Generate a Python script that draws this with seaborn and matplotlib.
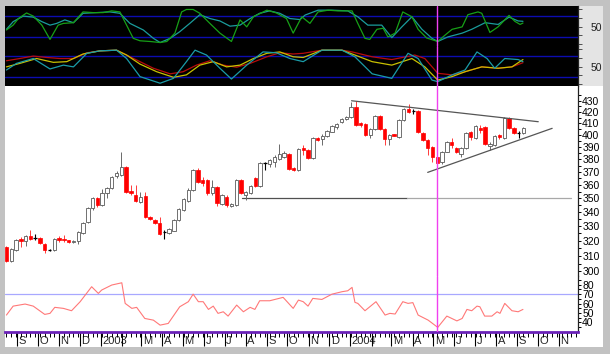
import numpy as np
import pandas as pd
import seaborn as sns
import matplotlib.pyplot as plt
from matplotlib.patches import Rectangle
from matplotlib.ticker import FixedLocator, NullFormatter, FuncFormatter
from matplotlib.transforms import ScaledTranslation
import matplotlib.dates as mdates

# weekly candles, first bar = week ending 16 Aug 2002
start = pd.Timestamp("2002-08-16")

opens = [315.8, 306.7, 313.8, 321.5, 319.8, 323.3, 321.6, 321.9, 317.8, 313.8,
         313.8, 321.9, 321.5, 320.5, 319.1, 319.8, 325.3, 332.9, 342.9, 350.2,
         345.1, 353.9, 357.7, 366.9, 367.7, 373.9, 355.4, 352.4, 347.3, 351.7,
         336.5, 334.3, 332.2, 325.8, 325.3, 327.0, 334.3, 341.5, 348.0, 356.2,
         371.5, 363.8, 363.8, 354.0, 358.5, 345.9, 351.0, 344.4, 345.1, 363.8,
         352.4, 354.0, 365.3, 359.2, 377.1, 376.3, 377.9, 380.3, 381.9, 384.3,
         373.1, 371.5, 389.2, 387.5, 380.7, 397.5, 396.7, 399.2, 402.9, 406.5,
         411.2, 413.8, 415.5, 424.3, 410.4, 409.5, 400.0, 405.3, 416.4, 405.3,
         396.7, 400.6, 398.3, 412.9, 422.5, 420.8, 420.8, 401.7, 395.8, 390.0,
         381.9, 377.5, 386.3, 393.8, 389.2, 384.3, 389.2, 402.5, 397.5, 406.1,
         407.0, 390.5, 391.7, 400.0, 397.5, 414.7, 406.1, 401.7, 401.7]
highs = [316.5, 315.1, 321.2, 322.6, 324.0, 327.4, 324.6, 322.6, 318.5, 314.5,
         321.9, 323.3, 324.0, 320.8, 320.5, 326.7, 332.9, 343.6, 351.0, 351.0,
         356.9, 358.5, 366.9, 370.8, 385.7, 374.7, 360.0, 360.0, 354.7, 354.7,
         337.2, 335.0, 336.5, 327.4, 328.8, 335.0, 342.9, 350.2, 357.7, 372.3,
         373.1, 366.1, 364.6, 363.8, 359.2, 353.2, 352.4, 346.6, 364.6, 364.6,
         355.4, 360.0, 366.1, 377.9, 377.9, 380.3, 383.5, 392.5, 386.7, 385.1,
         373.9, 389.2, 391.7, 388.4, 398.3, 398.3, 400.8, 404.2, 408.6, 410.4,
         414.7, 416.4, 428.8, 429.7, 411.2, 410.4, 406.1, 417.3, 417.3, 406.1,
         400.8, 400.8, 413.8, 423.4, 427.0, 422.5, 421.7, 402.5, 396.7, 390.9,
         382.7, 386.7, 395.0, 397.5, 390.0, 390.0, 402.5, 403.4, 408.6, 408.6,
         407.8, 394.2, 400.0, 400.8, 415.5, 415.5, 407.0, 403.4, 407.0]
lows = [306.0, 306.0, 313.5, 315.8, 316.5, 320.5, 320.5, 317.8, 311.8, 313.1,
        313.1, 319.1, 319.1, 318.5, 318.5, 317.8, 324.6, 332.2, 341.5, 343.6,
        344.4, 350.2, 357.0, 365.7, 366.9, 353.9, 352.4, 347.3, 346.6, 335.8,
        334.3, 331.5, 323.9, 321.2, 324.6, 326.7, 333.6, 340.8, 347.3, 355.4,
        361.5, 359.2, 352.4, 352.4, 344.4, 345.1, 343.6, 343.6, 344.4, 353.2,
        348.7, 353.2, 358.5, 358.5, 371.5, 373.9, 373.9, 379.5, 381.1, 371.5,
        370.8, 370.8, 383.5, 380.3, 380.3, 395.0, 391.7, 398.3, 402.5, 405.3,
        410.4, 412.9, 414.7, 407.8, 407.0, 399.2, 397.5, 404.2, 404.2, 391.7,
        391.7, 399.2, 397.5, 412.1, 419.0, 418.1, 401.7, 395.0, 383.5, 377.9,
        375.5, 376.3, 385.9, 389.2, 385.1, 381.9, 388.4, 395.8, 396.7, 401.7,
        391.7, 387.5, 390.9, 396.7, 396.7, 405.3, 400.8, 397.5, 400.8]
closes = [306.7, 314.5, 320.5, 319.8, 323.3, 321.5, 321.9, 318.5, 313.8, 314.0,
          321.2, 320.5, 320.8, 318.9, 320.2, 326.0, 332.2, 342.9, 350.2, 345.1,
          353.9, 357.7, 366.1, 369.2, 373.9, 354.7, 353.9, 348.0, 351.0, 336.5,
          335.0, 332.2, 324.6, 326.2, 328.1, 334.3, 341.9, 349.4, 356.2, 371.5,
          362.3, 361.5, 354.0, 358.5, 346.6, 352.4, 345.1, 345.9, 363.8, 354.0,
          354.7, 359.2, 359.2, 377.1, 377.5, 379.5, 381.9, 384.3, 385.1, 372.3,
          371.5, 388.4, 387.5, 381.1, 397.1, 396.2, 399.6, 403.4, 407.8, 409.5,
          413.8, 415.5, 424.3, 408.6, 408.6, 400.0, 405.3, 416.4, 405.3, 396.7,
          400.0, 399.4, 412.9, 422.5, 419.9, 420.4, 402.5, 395.8, 389.2, 381.9,
          377.1, 385.9, 394.2, 391.7, 385.9, 389.2, 401.7, 398.3, 407.4, 404.2,
          392.5, 392.5, 399.2, 398.3, 414.7, 406.1, 401.7, 401.3, 406.1]

# upper oscillator (fast / slow), x in weeks from the first bar
osc1_fast_wk = [0.0, 1.4, 2.5, 4.2, 5.6, 7.4, 9.1, 10.8, 11.9, 14.0, 16.0, 18.1, 20.2,
                22.0, 23.7, 25.1, 26.5, 27.9, 30.0, 32.1, 33.5, 35.2, 36.6, 37.6, 39.0,
                40.4, 42.5, 44.6, 47.0, 48.8, 50.2, 51.6, 54.4, 56.4, 58.5, 59.9, 61.7,
                63.4, 65.1, 67.2, 69.2, 72.2, 73.4, 74.9, 75.9, 77.4, 78.7, 79.7, 81.2,
                82.8, 84.7, 86.0, 87.8, 90.1, 91.6, 93.1, 95.2, 96.4, 98.5, 99.3, 101.0,
                102.7, 105.0, 106.2, 107.3, 107.9]
osc1_fast = [40, 54, 73, 89, 80, 54, 13, 54, 59, 61, 92, 90, 90, 95, 92, 54, 16, 9, 7, 4,
             7, 31, 92, 99, 99, 88, 59, 31, 7, 69, 49, 78, 97, 89, 73, 31, 78, 59, 92, 97,
             95, 95, 59, 16, 13, 42, 45, 20, 31, 92, 78, 42, 17, 7, 25, 42, 49, 84, 92, 88,
             33, 49, 82, 65, 56, 60]
osc1_slow_wk = [0.0, 1.4, 3.5, 5.6, 7.4, 9.1, 10.5, 12.2, 14.0, 16.0, 18.8, 21.6, 23.7,
                25.8, 28.6, 30.7, 32.1, 34.2, 36.2, 38.3, 40.4, 42.5, 44.6, 46.7, 48.8,
                50.9, 52.9, 55.0, 57.1, 59.2, 61.3, 62.4, 65.1, 68.0, 71.3, 73.4, 75.5,
                78.4, 80.5, 82.6, 84.7, 86.8, 88.9, 90.1, 92.2, 95.2, 97.2, 100.0, 102.7,
                105.0, 106.9, 107.9]
osc1_slow = [42, 64, 80, 77, 64, 54, 59, 69, 61, 88, 90, 92, 88, 59, 40, 16, 4, 16, 35, 59,
             84, 73, 66, 51, 54, 73, 88, 95, 88, 73, 70, 83, 97, 97, 95, 78, 54, 54, 18, 49,
             78, 42, 16, 7, 20, 31, 42, 61, 56, 77, 66, 65]

# lower oscillator (three lines)
osc2_red_wk = [0.0, 2.8, 5.6, 8.4, 11.2, 14.0, 16.8, 19.5, 23.0, 25.1, 27.9, 30.7, 34.2,
               36.9, 39.7, 42.5, 45.3, 48.1, 50.9, 54.4, 57.1, 59.9, 62.0, 65.9, 70.1,
               72.2, 76.4, 80.5, 85.3, 87.4, 90.1, 93.1, 95.8, 99.3, 102.7, 105.6, 107.9]
osc2_red = [66.6, 73, 80, 76, 73, 73, 89.5, 95, 97, 83, 64, 45, 29, 35, 54, 66.6, 54, 48,
            59, 78, 89.5, 86, 88, 97, 97, 92, 78, 70, 83, 73, 30.5, 26, 35, 49, 45, 49, 61]
osc2_yel_wk = [0.0, 2.8, 6.3, 9.8, 12.6, 16.0, 19.5, 23.0, 25.1, 27.9, 31.4, 34.9, 37.6,
               40.4, 43.2, 46.0, 48.8, 51.6, 54.4, 57.1, 59.9, 62.0, 65.9, 70.1, 72.8,
               76.4, 80.5, 84.7, 87.4, 90.1, 93.1, 95.8, 99.3, 102.7, 105.6, 107.9]
osc2_yel = [49, 59, 73, 62, 64, 86, 95, 97, 83, 57, 35, 19, 26, 54, 64, 49, 54, 73, 88, 92,
            78, 76, 97, 97, 83, 64, 54, 73, 49, 11, 21, 35, 49, 45, 49, 70]
osc2_teal_wk = [0.0, 2.1, 5.6, 9.1, 11.9, 14.0, 16.8, 19.5, 23.0, 25.1, 27.9, 32.1, 34.9,
                37.6, 39.4, 41.8, 44.6, 47.0, 50.2, 53.6, 56.4, 59.2, 62.0, 65.9, 70.1,
                72.8, 76.4, 80.5, 83.9, 86.0, 88.9, 90.1, 93.1, 95.8, 98.3, 100.4, 102.0,
                104.1, 106.9, 107.9]
osc2_teal = [40, 59, 73, 43, 54, 49, 88, 95, 97, 73, 21, 2, 16, 64, 97, 83, 45, 14, 54, 92,
             89.5, 73, 64, 97, 97, 78, 29, 16, 88, 73, 11, 6.5, 26, 40, 92, 73, 45, 73, 70, 64]

# RSI
rsi_wk = [0.0, 1.4, 3.9, 5.6, 8.0, 9.1, 10.1, 11.9, 13.6, 15.4, 17.8, 19.2, 19.9, 22.0,
          24.1, 24.8, 26.2, 27.2, 28.9, 30.7, 32.1, 33.8, 36.2, 38.0, 39.0, 40.1, 41.1,
          42.2, 43.2, 44.2, 45.3, 46.3, 48.1, 49.5, 50.9, 51.9, 52.9, 55.0, 57.8, 59.9,
          61.0, 62.0, 63.0, 64.0, 65.9, 68.0, 70.1, 71.3, 72.2, 72.8, 73.4, 74.9, 77.2,
          79.1, 80.1, 81.2, 82.8, 83.9, 84.9, 86.0, 88.1, 90.1, 92.0, 94.1, 95.2, 96.2,
          97.2, 98.3, 98.9, 99.9, 101.4, 102.5, 103.1, 104.1, 105.6, 106.9, 107.9]
rsi = [47.8, 57.3, 59.5, 57.3, 48.5, 49.6, 56, 54.9, 52.4, 62, 77.9, 70.8, 74.4, 79.7,
       82.1, 60.2, 54.9, 56, 44.2, 42.4, 37.1, 38.9, 56.6, 62, 70, 62, 62, 53.8, 57.3,
       49.6, 51.3, 46.7, 58.4, 51.3, 56, 53.8, 63, 63, 66.6, 54.9, 63.7, 62, 57.3, 65.5,
       64.4, 70, 72.6, 73.6, 77.2, 61.3, 60.2, 52.4, 62, 47.8, 49.6, 48.9, 62, 60.2, 61,
       47.8, 42.4, 34.7, 46.7, 41.6, 44.2, 53.8, 52.4, 57.3, 56.6, 46.7, 46.7, 51.3, 49.6,
       60.2, 52.4, 51.3, 53.8]

# drawn lines on the price chart
upper_trend_wk = [72.1, 111.1]
upper_trend_px = [430.0, 411.4]
lower_trend_wk = [88.0, 114.0]
lower_trend_px = [369.7, 405.7]
support_wk = [49.3, 83.6, 118.0]
support_level = 350.0
marker_week = 90

price_ticks = list(range(300, 431, 10))
price_minor = list(range(305, 440, 10))
rsi_ticks = [40, 50, 60, 70, 80]
rsi_minor = [35, 45, 55, 65, 75, 85]
osc_ticks = [0, 25, 50, 75, 100]
osc_labels = ["", "", "50", "", ""]
osc_bands = [20, 80]
rsi_band = 70
month_starts = pd.date_range("2002-09-01", "2004-11-01", freq="MS")
month_labels = ["S", "O", "N", "D", "2003", "", "M", "A", "M", "J", "J", "A", "S",
                "O", "N", "D", "2004", "", "M", "A", "M", "J", "J", "A", "S", "O", "N"]


def weeks_to_dates(w):
    return start + pd.to_timedelta(np.asarray(w, dtype=float) * 7, unit="D")


dates = weeks_to_dates(np.arange(len(opens)))
x_left, x_right = weeks_to_dates([-0.3, 119.4])

sns.set_theme(style="white")
plt.rcParams["font.family"] = ["Liberation Sans", "DejaVu Sans"]

W, H = 610, 354
fig = plt.figure(figsize=(W / 100, H / 100), dpi=100, facecolor="#c2c2c2")


def frame(l, t, r, b):
    return [l / W, 1 - b / H, (r - l) / W, (b - t) / H]


fig.patches.append(Rectangle((5 / W, 1 - 347 / H), 598 / W, 261 / H, transform=fig.transFigure,
                             facecolor="white", edgecolor="none", zorder=-5))
fig.patches.append(Rectangle((578 / W, 1 - 86 / H), 25 / W, 80 / H, transform=fig.transFigure,
                             facecolor="#e4e4e4", edgecolor="none", zorder=-5))

ax_a = fig.add_axes(frame(5, 6, 578, 46))
ax_b = fig.add_axes(frame(5, 46, 578, 86))
ax_p = fig.add_axes(frame(5, 86, 578, 276))
ax_r = fig.add_axes(frame(5, 276, 578, 332))

magenta = "#f040f0"

# --- oscillators ---
for ax in (ax_a, ax_b):
    ax.set_facecolor("black")
    for y in osc_bands:
        ax.axhline(y, color="#0c0cb0", lw=1.0, zorder=1)
    ax.axvline(dates[marker_week], color=magenta, lw=1.0, zorder=5)

sns.lineplot(x=weeks_to_dates(osc1_slow_wk), y=osc1_slow, ax=ax_a, color="#1a9c9c", lw=0.9)
sns.lineplot(x=weeks_to_dates(osc1_fast_wk), y=osc1_fast, ax=ax_a, color="#17a017", lw=0.9)
sns.lineplot(x=weeks_to_dates(osc2_red_wk), y=osc2_red, ax=ax_b, color="#b80c0c", lw=0.9)
sns.lineplot(x=weeks_to_dates(osc2_yel_wk), y=osc2_yel, ax=ax_b, color="#c8c000", lw=0.9)
sns.lineplot(x=weeks_to_dates(osc2_teal_wk), y=osc2_teal, ax=ax_b, color="#1a9ca8", lw=0.9)

for ax in (ax_a, ax_b):
    ax.set_ylim(-6, 109)
    ax.set_yticks(osc_ticks, osc_labels)
    ax.tick_params(axis="y", length=3, width=0.7, color="#505050", pad=6,
                   labelsize=7.5, labelcolor="#202020")

# --- candles ---
o, h, l, c = map(np.asarray, (opens, highs, lows, closes))
doji = np.abs(c - o) / o < 0.0015
up = (c > o) & ~doji
dn = (c < o) & ~doji
body_w = 5.0

ax_p.set_yscale("log")
ax_p.vlines(dates[up], l[up], h[up], color="#6a6a6a", lw=0.7, zorder=2)
ax_p.vlines(dates[dn], l[dn], h[dn], color="#ff3a3a", lw=0.7, zorder=2)
ax_p.vlines(dates[doji], l[doji], h[doji], color="black", lw=0.8, zorder=2)
ax_p.bar(dates[up], (c - o)[up], bottom=o[up], width=body_w, color="white",
         edgecolor="#5a5a5a", lw=0.6, zorder=3)
ax_p.bar(dates[dn], (o - c)[dn], bottom=c[dn], width=body_w, color="#ff0000",
         edgecolor="#ff0000", lw=0.5, zorder=3)
half = pd.Timedelta(days=body_w / 2)
ax_p.hlines(o[doji], dates[doji] - half, dates[doji] + half, color="black", lw=0.9, zorder=3)

ax_p.plot(weeks_to_dates(upper_trend_wk), upper_trend_px, color="#555555", lw=0.9, zorder=4)
ax_p.plot(weeks_to_dates(lower_trend_wk), lower_trend_px, color="#555555", lw=0.9, zorder=4)
ax_p.plot(weeks_to_dates(support_wk[:2]), [support_level] * 2, color="#505050", lw=0.9, zorder=1)
ax_p.plot(weeks_to_dates(support_wk[1:]), [support_level] * 2, color="#a8a8a8", lw=0.9, zorder=1)
ax_p.axvline(dates[marker_week], color=magenta, lw=1.0, zorder=5)

ax_p.set_ylim(297.1, 443.6)
ax_p.yaxis.set_major_locator(FixedLocator(price_ticks))
ax_p.yaxis.set_major_formatter(FuncFormatter(lambda v, _: f"{v:.0f}"))
ax_p.yaxis.set_minor_locator(FixedLocator(price_minor))
ax_p.yaxis.set_minor_formatter(NullFormatter())

# --- RSI ---
sns.lineplot(x=weeks_to_dates(rsi_wk), y=rsi, ax=ax_r, color="#ff7878", lw=0.8)
ax_r.axhline(rsi_band, color="#a8a8ff", lw=0.9, zorder=1)
ax_r.axvline(dates[marker_week], color=magenta, lw=1.0, zorder=5)
ax_r.set_ylim(29.8, 89.3)
ax_r.yaxis.set_major_locator(FixedLocator(rsi_ticks))
ax_r.yaxis.set_minor_locator(FixedLocator(rsi_minor))
ax_r.yaxis.set_minor_formatter(NullFormatter())

for ax in (ax_p, ax_r):
    ax.set_facecolor("white")
    ax.tick_params(axis="y", which="both", length=2.5, width=0.7, color="black", pad=0.5,
                   labelsize=7.5, labelcolor="black")

# --- shared frame settings ---
for ax in (ax_a, ax_b, ax_p, ax_r):
    ax.set_xlim(x_left, x_right)
    ax.set_xlabel("")
    ax.set_ylabel("")
    ax.yaxis.tick_right()
    for s in ("left", "top", "bottom"):
        ax.spines[s].set_visible(False)
    ax.spines["right"].set_color("#222222")
    ax.spines["right"].set_linewidth(0.9)
    ax.grid(False)

for ax in (ax_a, ax_b, ax_p):
    ax.tick_params(axis="x", which="both", bottom=False, labelbottom=False)

ax_r.spines["bottom"].set_visible(True)
ax_r.spines["bottom"].set_color("#6a22b8")
ax_r.spines["bottom"].set_linewidth(2.0)
ax_r.set_xticks(month_starts, month_labels)
ax_r.xaxis.set_minor_locator(mdates.WeekdayLocator(byweekday=mdates.FR))
ax_r.tick_params(axis="x", which="major", bottom=True, direction="out", length=10,
                 width=0.8, color="black", pad=-7, labelsize=8)
ax_r.tick_params(axis="x", which="minor", bottom=True, direction="out", length=3.5,
                 width=0.7, color="black")
shift = ScaledTranslation(1.5 / 100, 0, fig.dpi_scale_trans)
for lbl in ax_r.get_xticklabels():
    lbl.set_horizontalalignment("left")
    lbl.set_transform(lbl.get_transform() + shift)

fig.savefig("out.png", dpi=100, facecolor=fig.get_facecolor())
